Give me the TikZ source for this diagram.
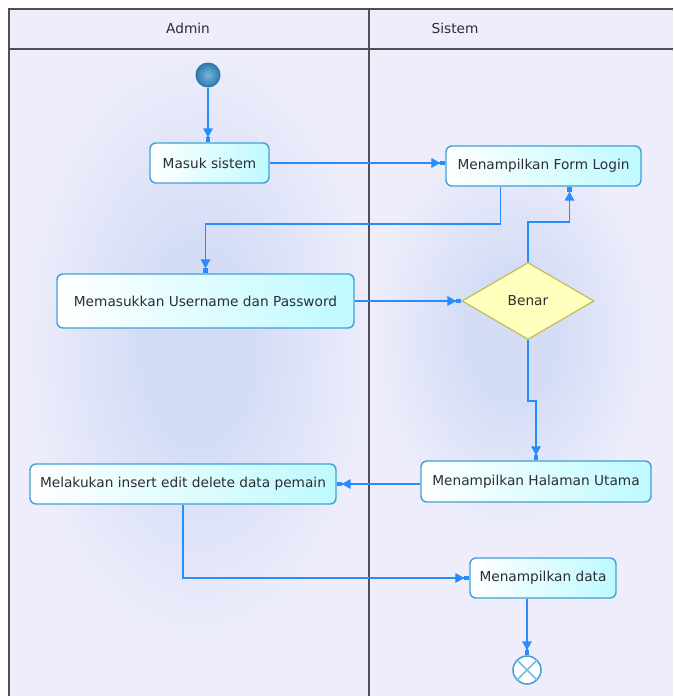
\documentclass[tikz,border=0pt]{standalone}
\usepackage{fontspec}
\setmainfont{DejaVu Sans}
\usetikzlibrary{arrows.meta,shapes.geometric,calc}

\definecolor{lanebg}{RGB}{237,237,251}
\definecolor{lanehaze}{RGB}{212,220,246}
\definecolor{frameline}{RGB}{80,80,84}
\definecolor{boxline}{RGB}{64,160,214}
\definecolor{boxfillA}{RGB}{255,255,255}
\definecolor{boxfillB}{RGB}{190,250,255}
\definecolor{flow}{RGB}{40,140,255}
\definecolor{decline}{RGB}{190,190,90}
\definecolor{decfill}{RGB}{255,255,190}
\definecolor{txt}{RGB}{45,45,50}
\definecolor{startin}{RGB}{120,180,215}
\definecolor{startout}{RGB}{45,125,175}

% soft blob that fades into the lane colour well inside its box
\pgfdeclareradialshading{lanehazeshade}{\pgfpoint{0bp}{0bp}}{%
  color(0bp)=(lanehaze); color(8bp)=(lanehaze); color(25bp)=(lanebg); color(50bp)=(lanebg)}

\tikzset{
  lbl/.style={font=\fontsize{13.7}{15}\selectfont, text=txt},
  action/.style={lbl, draw=boxline, line width=1.4pt, rounded corners=6pt,
    left color=boxfillA, right color=boxfillB, inner sep=0pt},
  decision/.style={lbl, diamond, draw=decline, line width=1.2pt, fill=decfill,
    inner sep=0pt, minimum width=132pt, minimum height=77pt},
  flowline/.style={draw=flow, line width=1.8pt,
    -{Triangle[width=10pt,length=9pt,line width=0pt] Rectangle[width=4.5pt,length=5pt,line width=0pt]}},
  lanerule/.style={draw=frameline, line width=2pt},
}

\begin{document}
\begin{tikzpicture}[x=1pt,y=-1pt]
\useasboundingbox (0,0) rectangle (673,696);
\fill[white] (0,0) rectangle (673,696);

% swimlane body
\fill[lanebg] (9,9) rectangle (673,696);
% soft haze in the lanes
\shade[shading=lanehazeshade] (25,50) rectangle (370,640);
\shade[shading=lanehazeshade] (375,140) rectangle (650,530);

% lane frame
\draw[lanerule] (9,696) -- (9,9) -- (673,9);
\draw[lanerule] (9,49) -- (673,49);
\draw[lanerule] (369,9) -- (369,696);

% lane headers
\node[lbl] (hadmin) at (188,28) {Admin};
\node[lbl] (hsistem) at (455,28) {Sistem};

% start and end
\node[circle, draw={rgb,255:red,40;green,120;blue,170}, line width=1pt,
  inner color=startin, outer color=startout, minimum size=24pt, inner sep=0pt] (start) at (208,75) {};
\node[circle, draw=boxline, line width=1.5pt, fill=white,
  minimum size=28pt, inner sep=0pt] (stop) at (527,670) {};
\draw[boxline!70, line width=1.5pt] (stop.north east) -- (stop.south west)
  (stop.north west) -- (stop.south east);

% actions
\node[action, minimum width=119pt, minimum height=40pt] (masuk) at (209.5,163) {Masuk sistem};
\node[action, minimum width=195pt, minimum height=40pt] (form) at (543.5,166) {Menampilkan Form Login};
\node[action, minimum width=297pt, minimum height=54pt] (user) at (205.5,301) {Memasukkan Username dan Password};
\node[decision] (benar) at (528,301) {Benar};
\node[action, minimum width=230pt, minimum height=41pt] (utama) at (536,481.5) {Menampilkan Halaman Utama};
\node[action, minimum width=306pt, minimum height=40pt] (crud) at (183,484) {Melakukan insert edit delete data pemain};
\node[action, minimum width=146pt, minimum height=40pt] (tampil) at (543,578) {Menampilkan data};

% flows
\draw[flowline] (start) -- (start |- masuk.north);
\draw[flowline] (masuk.east) -- (masuk.east -| form.west);
\draw[flowline] ([xshift=-43pt]form.south) -- ++(0,37) -| (user.north);
\draw[flowline] (user.east) -- (benar.west);
\draw[flowline] (benar.north) -- ++(0,-40) -| ([xshift=26pt]form.south);
\draw[flowline] (benar.south) -- ++(0,60.5) -| (utama.north);
\draw[flowline] (crud.east -| utama.west) -- (crud.east);
\draw[flowline] (crud.south) |- (tampil.west);
\draw[flowline] (tampil.south -| stop.north) -- (stop.north);
\end{tikzpicture}
\end{document}
